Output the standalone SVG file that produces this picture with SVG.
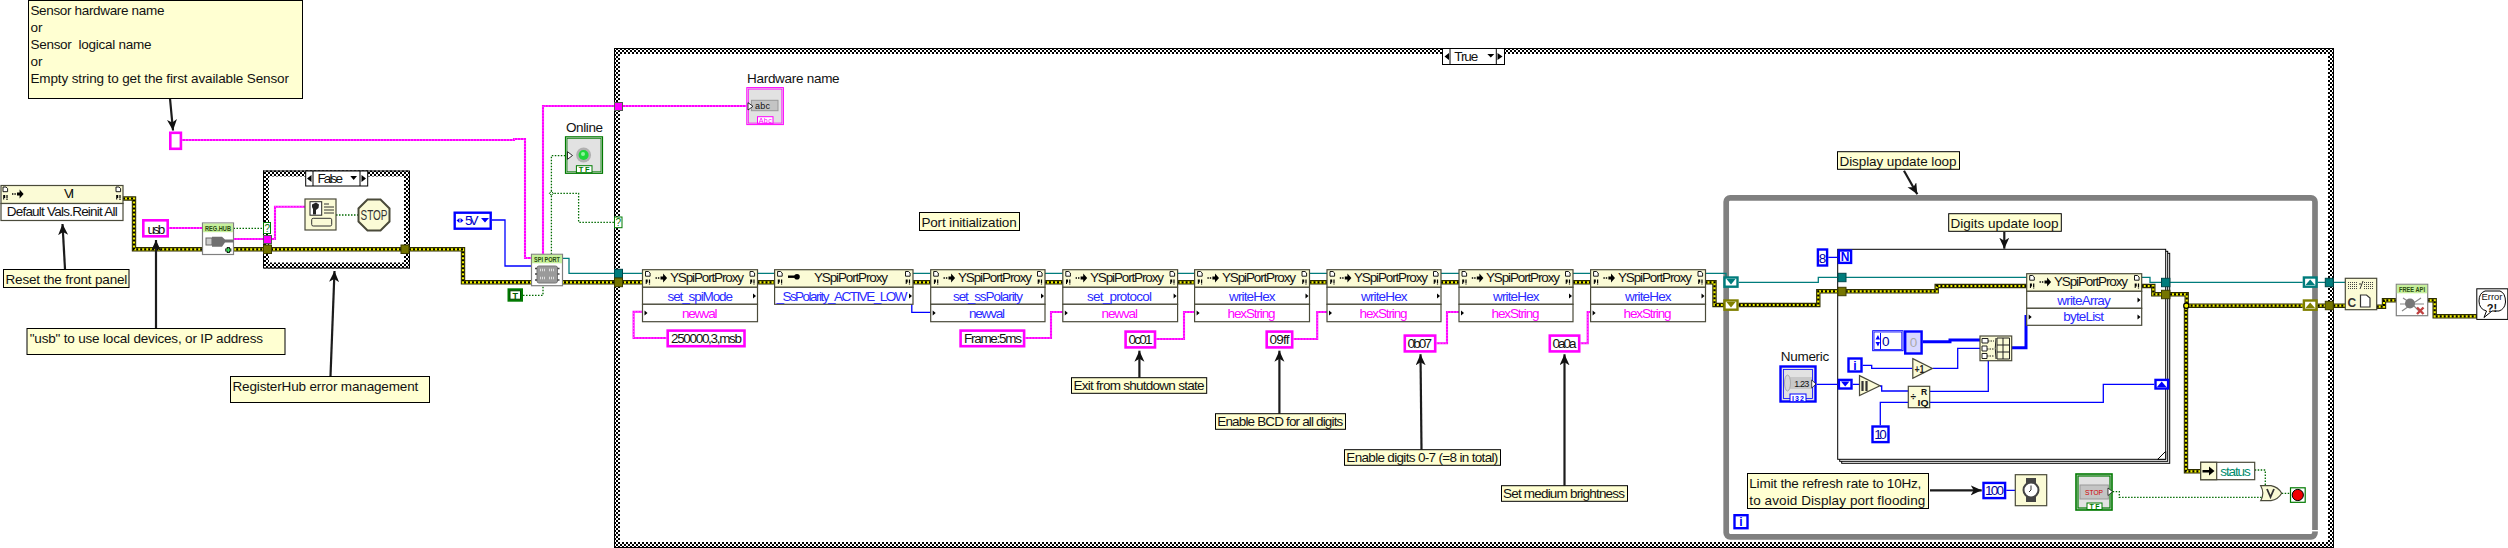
<svg xmlns="http://www.w3.org/2000/svg" width="2508" height="548" viewBox="0 0 2508 548">
<style>
text{font-family:"Liberation Sans","Noto Sans",sans-serif;font-size:13.5px;fill:#111}
.m{text-anchor:middle}
.note{fill:#ffffd2;stroke:#000;stroke-width:1}
.arr{stroke:#1c1c1c;stroke-width:2.2;fill:none;marker-end:url(#ah)}
.box{fill:#fbfbd6;stroke:#4a4a3a;stroke-width:1.2}
.row{fill:#fff;stroke:#4a4a3a;stroke-width:1.2}
.bl{fill:#2a2aff}.pk{fill:#ff00ff}
.cs{fill:#fff;stroke:#ff00ff;stroke-width:2.6}
.ci{fill:#fff;stroke:#0000ff;stroke-width:2.4}
.cg{fill:#fff;stroke:#007a00;stroke-width:2.4}
.frame{fill:none;stroke:url(#chk);stroke-width:6}
.fo{fill:none;stroke:#000;stroke-width:1}
.w{fill:none}
.teal{stroke:#007c7c;stroke-width:1.3}
.blue{stroke:#0000ff;stroke-width:1.3}
.blue3{stroke:#0000ff;stroke-width:3}
.grn{stroke:#006a00;stroke-width:1.3;stroke-dasharray:1.5 1.5}
.pk1{stroke:#ff00ff;stroke-width:2.1}
.pk2{stroke:#ffd0ff;stroke-width:.7;stroke-dasharray:1 2}
.e1{stroke:#2e2e00;stroke-width:4.4}
.e2{stroke:#f4f400;stroke-width:2.2}
.e3{stroke:#000;stroke-width:2.2;stroke-dasharray:2 2}
.tb{fill:#007c7c;stroke:#00484a;stroke-width:1}
.br{fill:#757500;stroke:#3e3e00;stroke-width:1}
.sm{font-size:8px;font-weight:700}
</style>
<defs>
<pattern id="chk" width="4" height="4" patternUnits="userSpaceOnUse"><rect width="4" height="4" fill="#fff"/><rect width="2" height="2" fill="#000"/><rect x="2" y="2" width="2" height="2" fill="#000"/></pattern>
<pattern id="dots" width="2" height="2" patternUnits="userSpaceOnUse"><rect width="2" height="2" fill="#fbfbd6"/><rect width="1" height="1" fill="#444"/></pattern>
<marker id="ah" markerUnits="userSpaceOnUse" markerWidth="14" markerHeight="12" refX="11" refY="5" orient="auto"><path d="M0 0L11 5L0 10L3 5Z" fill="#111"/></marker>
<g id="ic"><path d="M0 .5H3L4.6 2V5.2H0Z" fill="#fff" stroke="#000" stroke-width=".9"/><path d="M.2 8.5H2.2V11.5H1.2V13H.2ZM3.4 8.5H4.6V12H3.4ZM3.4 12.6H4.6V13.6H3.4Z" fill="#000"/></g>
<path id="go" d="M0 6.2H1.4V7.8H0ZM2.4 6.2H3.8V7.8H2.4ZM5 5.6H7.6V2.6L11.6 7L7.6 11.4V8.4H5Z" fill="#000"/>
<path id="tl" d="M0 0L3 2.5L0 5Z" fill="#000"/>
<path id="tr" d="M0 0L3 2.5L0 5Z" fill="#000"/>
<path id="errw" class="w" d="M123 198.5H134V249.3H263M271 249.3H401M409 249.3H463V282.3H614M622 282.3H642.5M757.5 282.3H774.6M913 282.3H930.7M1045 282.3H1062.8M1177.6 282.3H1194.6M1309.5 282.3H1327M1441 282.3H1459M1573 282.3H1590.6M1705.5 282.3H1714.5V305H1724M1738.7 305H1818.3V291.3H1838M1845.7 291.3H1936.7V286H2026.7M2141.7 286H2153.3V294.3H2161M2170 294.3H2186.7V305.7H2302.7M2186 305.7V471.3H2200.7M2317.7 305.7H2325.3M2333.3 305.7H2345.3M2376.7 306.7H2384V300.3H2396.3M2427.7 300.3H2434.7V316.3H2476.7"/>
<path id="pkw" class="w" d="M182 140H514V139H525V258H532M169 228H202M233.5 239H263M271 239H275V206.7H305M543 254.3V106H614M622 106H746.5M666.4 338H633.6V311.7H642.5M1025.4 338H1051V312H1062.8M1156.3 339H1184V312H1194.6M1293.5 339H1317.2V312H1327M1436.5 343.3H1447V312H1459M1580.5 343.3H1587.7V312H1590.6"/>
</defs>
<rect width="2508" height="548" fill="#fff"/>

<g id="frames">
<g id="case-true"><rect class="frame" x="617" y="51" width="1714" height="494"/><rect class="fo" x="614.5" y="48.5" width="1719" height="499"/></g>
<g id="case-false"><rect class="frame" x="266" y="173.5" width="141" height="92"/><rect class="fo" x="263.5" y="171" width="146" height="97"/></g>
<g id="while-loop"><rect x="1726.2" y="197.8" width="588.8" height="339" rx="4" fill="none" stroke="#808080" stroke-width="5.7"/><path d="M2312 530.7H2318" stroke="#fff" stroke-width="1.4"/></g>
<g id="for-loop" fill="#fff" stroke="#000" stroke-width="1"><rect x="1841.7" y="253.3" width="328" height="210"/><rect x="1839.7" y="251.3" width="328" height="210"/><rect x="1837.7" y="249.3" width="328" height="210"/><path d="M2157.7 459.3L2165.7 451.3V459.3Z"/></g>
</g>

<g id="connectors">
<use href="#errw" class="e1"/><use href="#errw" class="e2"/><use href="#errw" class="e3"/>
<use href="#pkw" class="pk1"/><use href="#pkw" class="pk2"/>
<path class="w teal" d="M562.5 258.3H569V273.3H614M622 273.3H642.5M757.5 273.3H774.6M913 273.3H930.7M1045 273.3H1062.8M1177.6 273.3H1194.6M1309.5 273.3H1327M1441 273.3H1459M1573 273.3H1590.6M1705.5 273.3H1726V280M1738.7 282.3H1818.3V277.3H1837.7M1845.7 277.3H2026.7M2141.7 277.3H2150V282.3H2161.3M2170 282.3H2302.7M2317.7 282.3H2325.3M2333.3 282.3H2345.3"/>
<path class="w grn" d="M233.5 228.3H263M336 215H358M551.4 254.3V155.7H566M551.4 193.3H578.6V222.3H614M523 295.3H543V285.7M2112.7 491.7H2119.3V497.3H2265M2254.7 470H2265.3V486M2281.7 493.3H2290"/>
<path class="w blue" d="M492 220H505V266H532M911.8 304.3V312.3H930.7M1828.3 257.3H1837.7M1816.7 384.3H1837.7M1852.7 384.3H1859M1880 386H1881.7V391H1908.3M1862.7 365.3H1871.7V368.3H1912.3M1932.7 368.3H1957.7V348.3H1980M1929.7 391.3H1988.3V360.7M1880.3 425.3V402.3H1908.3M1929.7 402.3H2103.3V384.3H2154.3M2006.3 490.3H2015.3"/>
<path class="w blue3" d="M1922.7 341.7H1950V340H1980M2011.7 347.7H2026V315"/>
<path d="M551.4 191.3L553.4 193.3L551.4 195.3L549.4 193.3Z" fill="#fff" stroke="#006a00"/>
<circle cx="2186.3" cy="305.7" r="2.6" fill="#f4f400" stroke="#000" stroke-width="1.2"/>
</g>

<g id="note-arrows">
<path class="arr" d="M170 98.5L173 130.5"/>
<path class="arr" d="M65 269L62.5 224"/>
<path class="arr" d="M156 328V240"/>
<path class="arr" d="M330.5 376L334.5 271"/>
<path class="arr" d="M1139.4 377.7V350.7"/>
<path class="arr" d="M1279.4 413.7V350.7"/>
<path class="arr" d="M1421.5 449.7L1420.5 354.3"/>
<path class="arr" d="M1564.5 485.7V354.3"/>
<path class="arr" d="M1904 170.7L1917.3 194.3"/>
<path class="arr" d="M2004.3 232V248.7"/>
<path class="arr" d="M1930 490.3H1981.7"/>
</g>

<g id="note-sensor"><rect class="note" x="28.5" y=".5" width="274" height="98"/>
<text x="30.4" y="15" textLength="134">Sensor hardware name</text><text x="30.4" y="32" textLength="12">or</text><text x="30.4" y="49" textLength="121" xml:space="preserve">Sensor  logical name</text><text x="30.4" y="66" textLength="12">or</text><text x="30.4" y="83" textLength="258.6">Empty string to get the first available Sensor</text></g>
<g id="const-empty"><rect class="cs" x="170.3" y="132.8" width="10.6" height="16"/></g>

<g id="node-vi"><rect class="box" x="1" y="185.5" width="122" height="18"/><rect class="row" x="1" y="203.5" width="122" height="17"/>
<use href="#ic" x="3" y="186.5"/><use href="#ic" x="116" y="186.5"/><use href="#go" x="12" y="187"/>
<text x="64" y="198.2" textLength="10.3">VI</text><text x="6.7" y="216.2" textLength="111">Default Vals.Reinit All</text></g>
<g id="note-reset"><rect class="note" x="3.5" y="269.5" width="125.5" height="18"/><text x="5.5" y="283.8" textLength="121.8">Reset the front panel</text></g>
<g id="const-usb"><rect class="cs" x="143.3" y="220.3" width="24.4" height="16"/><text x="147.5" y="233.8" textLength="17.8">usb</text></g>
<g id="note-usb"><rect class="note" x="27" y="328.5" width="258" height="26"/><text x="29.7" y="342.5" textLength="233.3">"usb" to use local devices, or IP address</text></g>
<g id="node-reghub"><rect x="202.5" y="223" width="31" height="31.5" fill="#fff" stroke="#808080" stroke-width="1.2"/><rect x="203" y="223.5" width="30" height="8.7" fill="#c6f09c"/>
<text class="sm m" x="218" y="230.6" textLength="26" lengthAdjust="spacingAndGlyphs" style="fill:#2a4a10">REG.HUB</text>
<rect x="206" y="238" width="6" height="7" fill="#ccc" stroke="#666"/><path d="M212 236.7H222L225 239.5H233.5V242.5H225L222 246.7H212Z" fill="#707070"/><path d="M228.3 247V253M225.3 250H231.3" stroke="#000" stroke-width="3"/><path d="M228.3 247.7V252.3M226 250H230.6" stroke="#3fe05a" stroke-width="1.4"/></g>
<g id="note-reghub"><rect class="note" x="230.5" y="376.5" width="199" height="26"/><text x="232.5" y="391" textLength="185.8">RegisterHub error management</text></g>
<g id="tunnels-false"><rect x="263.5" y="222.5" width="7" height="11" fill="#fff" stroke="#007a00"/><text x="264.5" y="231.5" style="font-size:10px;fill:#007a00">?</text>
<rect x="263.5" y="235.5" width="8" height="8" fill="#ff00ff" stroke="#555"/><rect class="br" x="263.5" y="245" width="8" height="8.5"/><rect class="br" x="401" y="245" width="8" height="8.5"/></g>
<g id="selector-false"><rect x="305.7" y="171" width="62" height="15" fill="#fff" stroke="#000"/><path d="M313 171V186M360 171V186" stroke="#000"/><path d="M311.5 175V182L307 178.5ZM361.5 175V182L366 178.5ZM350.3 176H357L353.7 180Z" fill="#000"/><text x="317.5" y="183.2" textLength="25.5">False</text></g>
<g id="node-dialog"><rect class="box" x="305" y="199" width="31" height="31" stroke-width="1.6"/><rect x="310" y="201.7" width="11.7" height="13.5" fill="#fff" stroke="#222"/><path d="M313 214.5V209L312 207V204.5L316 202.5L319 204.5L318.5 208L316 210V214.5Z" fill="#222"/><path d="M324 204H329M324 207H334M324 210H334M324 213H334" stroke="#333" stroke-width="1"/><rect x="311.7" y="218.3" width="20" height="7.7" rx="1.5" fill="none" stroke="#333"/></g>
<g id="node-stop"><path d="M367.5 199.5H380.5L389.5 208.5V221.5L380.5 230.5H367.5L358.5 221.5V208.5Z" fill="#fbfbd6" stroke="#4a4a3a" stroke-width="2"/><text class="m" x="374" y="220" textLength="27" lengthAdjust="spacingAndGlyphs" style="font-size:14px;fill:#333">STOP</text></g>
<g id="enum-5v"><rect class="ci" x="454.7" y="212.7" width="36" height="16"/><path d="M456.5 220.5L459.5 218V223ZM463.5 220.5L460.5 218V223ZM481 218H489L485 222.5Z" fill="#0000ff"/><text x="465" y="225" textLength="13.4" style="fill:#0000c8">5V</text></g>
<g id="node-spiport"><rect x="531.5" y="254.3" width="31" height="31.4" fill="#fff" stroke="#808080" stroke-width="1.2"/><rect x="532" y="254.8" width="30" height="8.5" fill="#c6f09c"/><text class="sm m" x="547" y="262" textLength="26" lengthAdjust="spacingAndGlyphs" style="fill:#2a4a10">SPI PORT</text>
<rect x="537" y="266" width="20.5" height="17" rx="2" fill="#9a9a9a" stroke="#777"/><path d="M535 268.5H537M535 274H537M535 280H537M557.5 268.5H559.5M557.5 274H559.5M557.5 280H559.5" stroke="#444" stroke-width="1.5"/><path d="M540 270H545M549 270H554M540 278H545M549 278H554" stroke="#ddd" stroke-width="2.5" stroke-dasharray="1 1"/></g>
<g id="const-true"><rect x="507.5" y="288.3" width="15.5" height="13.4" fill="#007a00"/><rect x="510" y="290.8" width="10.5" height="8.4" fill="#fff" stroke="#004a00"/><text class="m" x="515.2" y="298.7" style="font-size:9px;font-weight:700;fill:#005a00">T</text></g>
<g id="ind-online"><text x="566" y="131.8" textLength="37">Online</text><rect x="565.5" y="136.8" width="37" height="36.5" fill="#e2e2e2" stroke="#007a00" stroke-width="1.2"/><rect x="567" y="138.3" width="34" height="33.5" fill="none" stroke="#007a00" stroke-width=".8"/><circle cx="583.6" cy="155" r="7.5" fill="#b0b0b0"/><circle cx="583.6" cy="155" r="5" fill="#1fd63a"/><circle cx="583" cy="154" r="2" fill="#8cf59a"/><path d="M567.5 151.7L572.5 155.5L567.5 159.3Z" fill="#fff" stroke="#000" stroke-width=".8"/><rect x="576.4" y="165.7" width="15.6" height="7" fill="#fff" stroke="#007a00"/><text class="m" x="584.2" y="172" textLength="11" style="font-size:7.5px;font-weight:700;fill:#007a00">TF</text></g>
<g id="tunnels-true-left"><rect x="614.5" y="102.5" width="8" height="8" fill="#ff00ff" stroke="#555"/><rect x="614.5" y="217" width="7.5" height="10.7" fill="#fff" stroke="#007a00"/><text x="615.5" y="226" style="font-size:10px;fill:#007a00">?</text><rect class="tb" x="614.5" y="269.3" width="8" height="8.7"/><rect class="br" x="614.5" y="278" width="8" height="8.7"/></g>
<g id="ind-hardware"><text x="747" y="82.8" textLength="92.6">Hardware name</text><rect x="746.8" y="87.6" width="36.6" height="37" fill="#e2e2e2" stroke="#ff00ff" stroke-width="1"/><rect x="748.3" y="89.1" width="33.6" height="34" fill="none" stroke="#ff00ff" stroke-width=".8"/><rect x="751.4" y="100.3" width="26.6" height="10.4" fill="#c4c4c4" stroke="#999"/><text x="755" y="108.8" textLength="15" style="font-size:9px">abc</text><path d="M748 102.7L753 106.3L748 110Z" fill="#fff" stroke="#000" stroke-width=".8"/><rect x="757.5" y="116.7" width="15.5" height="6.6" fill="#fff" stroke="#ff00ff"/><text class="m" x="765.2" y="122.6" textLength="13" style="font-size:7px;fill:#ff00ff">Abc</text></g>

<g id="node-setspimode"><rect class="box" x="642.5" y="269.7" width="115" height="17.6"/><rect class="row" x="642.5" y="287.3" width="115" height="17"/><rect class="row" x="642.5" y="304.3" width="115" height="17.4"/><use href="#ic" x="645.5" y="271"/><use href="#ic" x="750" y="271"/><use href="#go" x="655.5" y="271"/><use href="#tr" x="753" y="293.5"/><use href="#tl" x="644.5" y="310.5"/>
<text x="670" y="282" textLength="74">YSpiPortProxy</text><text class="bl" x="667.5" y="300.5" textLength="65.5">set_spiMode</text><text class="pk" x="682" y="317.5" textLength="35.5">newval</text></g>
<g id="const-spimode"><rect class="cs" x="667.7" y="330.6" width="76.8" height="15.6"/><text x="671" y="343" textLength="71">250000,3,msb</text></g>

<g id="node-sspolarity"><rect class="box" x="774.6" y="269.7" width="138.4" height="17.6"/><rect class="row" x="774.6" y="287.3" width="138.4" height="17"/><use href="#ic" x="777.6" y="271"/><use href="#ic" x="905.5" y="271"/><rect x="788" y="275.5" width="8" height="2.4" fill="#000"/><circle cx="797" cy="276.7" r="2.8" fill="#000"/><use href="#tr" x="909" y="293.5"/>
<text x="814" y="282" textLength="74">YSpiPortProxy</text><text class="bl" x="776.4" y="300.5" textLength="131">_SsPolarity_ACTIVE_LOW</text></g>

<g id="node-setsspolarity"><rect class="box" x="930.7" y="269.7" width="114.3" height="17.6"/><rect class="row" x="930.7" y="287.3" width="114.3" height="17"/><rect class="row" x="930.7" y="304.3" width="114.3" height="17.4"/><use href="#ic" x="933.7" y="271"/><use href="#ic" x="1037.5" y="271"/><use href="#go" x="943.5" y="271"/><use href="#tr" x="1041" y="293.5"/><use href="#tl" x="932.7" y="310.5"/>
<text x="958" y="282" textLength="74">YSpiPortProxy</text><text class="bl" x="953" y="300.5" textLength="70">set_ssPolarity</text><text class="bl" x="969" y="317.5" textLength="36">newval</text></g>
<g id="const-frame"><rect class="cs" x="960.6" y="330.6" width="63.5" height="15.6"/><text x="964" y="343" textLength="58">Frame:5ms</text></g>

<g id="node-setprotocol"><rect class="box" x="1062.8" y="269.7" width="114.8" height="17.6"/><rect class="row" x="1062.8" y="287.3" width="114.8" height="17"/><rect class="row" x="1062.8" y="304.3" width="114.8" height="17.4"/><use href="#ic" x="1065.8" y="271"/><use href="#ic" x="1170" y="271"/><use href="#go" x="1075.6" y="271"/><use href="#tr" x="1173.6" y="293.5"/><use href="#tl" x="1064.8" y="310.5"/>
<text x="1090" y="282" textLength="74">YSpiPortProxy</text><text class="bl" x="1087" y="300.5" textLength="65">set_protocol</text><text class="pk" x="1101.5" y="317.5" textLength="36.5">newval</text></g>
<g id="const-0c01"><rect class="cs" x="1125.6" y="331.6" width="29.4" height="15.8"/><text x="1128.5" y="344" textLength="24">0c01</text></g>

<g id="node-writehex1"><rect class="box" x="1194.6" y="269.7" width="114.9" height="17.6"/><rect class="row" x="1194.6" y="287.3" width="114.9" height="17"/><rect class="row" x="1194.6" y="304.3" width="114.9" height="17.4"/><use href="#ic" x="1197.6" y="271"/><use href="#ic" x="1302" y="271"/><use href="#go" x="1207.4" y="271"/><use href="#tr" x="1305.5" y="293.5"/><use href="#tl" x="1196.6" y="310.5"/>
<text x="1222" y="282" textLength="74">YSpiPortProxy</text><text class="bl" x="1229" y="300.5" textLength="46.6">writeHex</text><text class="pk" x="1227.6" y="317.5" textLength="48">hexString</text></g>
<g id="const-09ff"><rect class="cs" x="1266.7" y="331.6" width="25.5" height="15.8"/><text x="1269.5" y="344" textLength="20">09ff</text></g>

<g id="node-writehex2"><rect class="box" x="1327" y="269.7" width="114" height="17.6"/><rect class="row" x="1327" y="287.3" width="114" height="17"/><rect class="row" x="1327" y="304.3" width="114" height="17.4"/><use href="#ic" x="1330" y="271"/><use href="#ic" x="1433.5" y="271"/><use href="#go" x="1339.8" y="271"/><use href="#tr" x="1437" y="293.5"/><use href="#tl" x="1329" y="310.5"/>
<text x="1354" y="282" textLength="74">YSpiPortProxy</text><text class="bl" x="1361" y="300.5" textLength="46.6">writeHex</text><text class="pk" x="1359.6" y="317.5" textLength="48">hexString</text></g>
<g id="const-0b07"><rect class="cs" x="1404.8" y="335.6" width="30.4" height="15.8"/><text x="1407.5" y="348" textLength="24.5">0b07</text></g>

<g id="node-writehex3"><rect class="box" x="1459" y="269.7" width="114" height="17.6"/><rect class="row" x="1459" y="287.3" width="114" height="17"/><rect class="row" x="1459" y="304.3" width="114" height="17.4"/><use href="#ic" x="1462" y="271"/><use href="#ic" x="1565.5" y="271"/><use href="#go" x="1471.8" y="271"/><use href="#tr" x="1569" y="293.5"/><use href="#tl" x="1461" y="310.5"/>
<text x="1486" y="282" textLength="74">YSpiPortProxy</text><text class="bl" x="1493" y="300.5" textLength="46.6">writeHex</text><text class="pk" x="1491.6" y="317.5" textLength="48">hexString</text></g>
<g id="const-0a0a"><rect class="cs" x="1549.8" y="335.6" width="29.4" height="15.8"/><text x="1552.5" y="348" textLength="24">0a0a</text></g>

<g id="node-writehex4"><rect class="box" x="1590.6" y="269.7" width="114.9" height="17.6"/><rect class="row" x="1590.6" y="287.3" width="114.9" height="17"/><rect class="row" x="1590.6" y="304.3" width="114.9" height="17.4"/><use href="#ic" x="1593.6" y="271"/><use href="#ic" x="1698" y="271"/><use href="#go" x="1603.4" y="271"/><use href="#tr" x="1701.5" y="293.5"/><use href="#tl" x="1592.6" y="310.5"/>
<text x="1618" y="282" textLength="74">YSpiPortProxy</text><text class="bl" x="1625" y="300.5" textLength="46.6">writeHex</text><text class="pk" x="1623.6" y="317.5" textLength="48">hexString</text></g>

<g id="note-port"><rect class="note" x="919.5" y="212.5" width="100" height="18"/><text x="921.4" y="226.8" textLength="95.3">Port initialization</text></g>
<g id="note-exit"><rect class="note" x="1071.5" y="377.7" width="135.2" height="15.6"/><text x="1073.5" y="390" textLength="131">Exit from shutdown state</text></g>
<g id="note-bcd"><rect class="note" x="1215.5" y="413.7" width="130" height="15.6"/><text x="1217.3" y="426" textLength="126">Enable BCD for all digits</text></g>
<g id="note-digits"><rect class="note" x="1344.5" y="449.7" width="156" height="15.6"/><text x="1346.3" y="462" textLength="152">Enable digits 0-7 (=8 in total)</text></g>
<g id="note-brightness"><rect class="note" x="1501.5" y="485.7" width="126" height="15.6"/><text x="1503" y="498" textLength="122">Set medium brightness</text></g>
<g id="selector-true"><rect x="1442.5" y="48.5" width="62" height="16" fill="#fff" stroke="#000"/><path d="M1450 48.5V64.5M1496.3 48.5V64.5" stroke="#000"/><path d="M1449 53V60L1444.5 56.5ZM1497.5 53V60L1502.5 56.5ZM1487.3 54H1494.3L1490.8 57.5Z" fill="#000"/><text x="1454.3" y="61.2" textLength="24">True</text></g>

<g id="note-display"><rect class="note" x="1837.5" y="151.7" width="122" height="17.6"/><text x="1839.5" y="166" textLength="117">Display update loop</text></g>
<g id="note-digitsloop"><rect class="note" x="1948.7" y="213.7" width="112.6" height="17.6"/><text x="1950.5" y="228" textLength="108">Digits update loop</text></g>
<g id="sr-left"><rect x="1724.5" y="277.5" width="13" height="9.2" fill="#fff" stroke="#007c7c" stroke-width="2.4"/><path d="M1726.5 279H1735.5L1731 284.5Z" fill="#007c7c"/><rect x="1724.5" y="300.5" width="13" height="9.2" fill="#fff" stroke="#808000" stroke-width="2.4"/><path d="M1726.5 302H1735.5L1731 307.5Z" fill="#808000"/></g>
<g id="const-8"><rect class="ci" x="1817.9" y="249.5" width="9.2" height="16"/><text class="m" x="1822.5" y="262.5" style="fill:#0000a0">8</text></g>
<g id="term-n"><rect class="ci" x="1838.9" y="250.5" width="12.2" height="12.4"/><text class="m" x="1845" y="261" style="font-size:12px;font-weight:700;fill:#0000ff">N</text></g>
<g id="tunnels-for"><rect class="tb" x="1838" y="273.3" width="8" height="8.4"/><rect class="br" x="1838" y="287.3" width="8" height="8.4"/><rect class="tb" x="2161.5" y="278.3" width="8.4" height="8.4"/><rect class="br" x="2161.5" y="290.3" width="8.4" height="8.4"/></g>
<g id="node-writearray"><rect class="box" x="2026.7" y="273.7" width="115" height="17.6"/><rect class="row" x="2026.7" y="291.3" width="115" height="17"/><rect class="row" x="2026.7" y="308.3" width="115" height="17"/><use href="#ic" x="2029.7" y="275"/><use href="#ic" x="2134.5" y="275"/><use href="#go" x="2039.5" y="275"/><use href="#tr" x="2137.5" y="297.5"/><use href="#tr" x="2137.5" y="314.5"/><use href="#tl" x="2028.7" y="314.5"/>
<text x="2054" y="286" textLength="74">YSpiPortProxy</text><text class="bl" x="2057.3" y="304.5" textLength="53.5">writeArray</text><text class="bl" x="2063.3" y="321.2" textLength="40.7">byteList</text></g>
<g id="array-const"><rect x="1872.7" y="330.7" width="30.4" height="20" fill="#fff" stroke="#0000ff" stroke-width="1"/><rect x="1874" y="332" width="27.8" height="17.4" fill="none" stroke="#0000ff" stroke-width=".8"/><path d="M1880.5 333V349" stroke="#0000ff"/><path d="M1875.5 339.5L1878 335L1880 339.5ZM1875.5 342L1878 346.5L1880 342Z" fill="#0000ff"/><text x="1882" y="346" style="fill:#0000a0">0</text><rect x="1905.2" y="331.5" width="16.4" height="22" fill="#d8d8ff" stroke="#0000ff" stroke-width="2.4"/><text class="m" x="1913.4" y="347" style="fill:#aaa">0</text></g>
<g id="node-replace"><rect class="box" x="1980" y="336" width="31.7" height="24.7" stroke-width="1.6"/><path d="M1982 338.5H1988V343H1982ZM1982 346H1987V351H1982ZM1982 353.5H1987V358.5H1982Z" fill="#fff" stroke="#222"/><path d="M1988 341H1994M1987 349H1994M1987 356H1994" stroke="#222" stroke-dasharray="1.5 1"/><path d="M1997 338V359M2003 338V359M2009.5 338V359M1997 338H2009.5M1997 345H2009.5M1997 352H2009.5M1997 359H2009.5" stroke="#222" fill="none"/><path d="M1996 338Q1994.5 348 1996 359" stroke="#222" fill="none"/></g>
<g id="const-i"><rect class="ci" x="1848.5" y="358.5" width="13" height="13"/><text class="m" x="1855" y="369.5" style="font-size:12px;font-weight:700;fill:#0000ff">i</text></g>
<g id="node-plus1"><path d="M1912.8 358.6L1932.4 368.4L1912.8 378.3Z" class="box"/><text x="1914.5" y="372.7" textLength="10" lengthAdjust="spacingAndGlyphs" style="font-size:10px;font-weight:700;fill:#222">+1</text></g>
<g id="ctl-numeric"><text x="1780.7" y="361" textLength="48.6">Numeric</text><rect x="1780.5" y="366.5" width="35" height="35" fill="#e2e2e2" stroke="#0000ff" stroke-width="2.4"/><rect x="1783.5" y="369.5" width="29" height="29" fill="none" stroke="#0000ff" stroke-width=".8"/><rect x="1790" y="377" width="22" height="12" fill="#c8c8c8"/><ellipse cx="1787.5" cy="383" rx="3" ry="8" fill="#d8d8d8" stroke="#aaa"/><text x="1794.3" y="387.3" textLength="15" style="font-size:9px">1.23</text><path d="M1811.7 380L1816 384L1811.7 388Z" fill="#fff" stroke="#000" stroke-width=".7"/><rect x="1790" y="394" width="16" height="7.7" fill="#fff" stroke="#0000ff"/><text class="m" x="1798" y="400.8" textLength="12" style="font-size:7px;font-weight:700;fill:#0000ff">I32</text></g>
<g id="tunnel-numeric"><rect class="ci" x="1838.9" y="379.9" width="12.6" height="8.6"/><path d="M1841 381.5H1849.5L1845.2 386.5Z" fill="#0000ff"/></g>
<g id="node-half"><path d="M1859.5 375.6L1880 385.7L1859.5 395.6Z" class="box"/><path d="M1862.5 381V391M1866.5 381V391" stroke="#333" stroke-width="2.2"/></g>
<g id="node-quotient"><rect class="box" x="1908.3" y="386.3" width="21.4" height="21.4"/><text x="1910.5" y="400" style="font-size:10px;font-weight:700">÷</text><text x="1921" y="395" style="font-size:8.5px;font-weight:700">R</text><text x="1917.5" y="406" textLength="11" lengthAdjust="spacingAndGlyphs" style="font-size:8.5px;font-weight:700">IQ</text></g>
<g id="const-10"><rect class="ci" x="1872.5" y="426.5" width="16" height="15.6"/><text class="m" x="1880.5" y="439" textLength="12.5" style="fill:#0000a0">10</text></g>
<g id="sr-right-u"><rect class="ci" x="2155.5" y="379.9" width="12.6" height="8.6"/><path d="M2157 387H2166.5L2161.7 381.5Z" fill="#0000ff"/></g>
<g id="note-limit"><rect class="note" x="1747.5" y="473.5" width="181" height="35"/><text x="1749.3" y="487.8" textLength="172">Limit the refresh rate to 10Hz,</text><text x="1749.3" y="504.8" textLength="176">to avoid Display port flooding</text></g>
<g id="const-100"><rect class="ci" x="1983.5" y="482.9" width="21.6" height="15.2"/><text x="1985" y="495" textLength="19" style="fill:#0000a0">100</text></g>
<g id="node-wait"><rect class="box" x="2015.3" y="474.7" width="31.4" height="31" stroke-width="1.4"/><path d="M2026 478H2036V484H2026ZM2026 496H2036V502H2026Z" fill="#444"/><circle cx="2031" cy="490" r="7.5" fill="#fff" stroke="#444" stroke-width="2"/><path d="M2031 485.5V490L2029 492" stroke="#333" fill="none"/></g>
<g id="ctl-stop"><rect x="2076" y="474" width="36" height="36" fill="#e2e2e2" stroke="#007a00" stroke-width="1.6"/><rect x="2078" y="476" width="32" height="32" fill="none" stroke="#007a00" stroke-width="1.2"/><rect x="2080" y="485" width="28.3" height="14" fill="#c4c4c4" stroke="#999"/><text class="m" x="2094" y="495" textLength="18" lengthAdjust="spacingAndGlyphs" style="font-size:8px;fill:#d00000">STOP</text><path d="M2108 488L2112.5 491.7L2108 495.5Z" fill="#fff" stroke="#000" stroke-width=".7"/><rect x="2087" y="503" width="15" height="6.5" fill="#fff" stroke="#007a00"/><text class="m" x="2094.5" y="509" textLength="10" style="font-size:7px;font-weight:700;fill:#007a00">TF</text></g>
<g id="term-loop-i"><rect class="ci" x="1734.5" y="515.2" width="13" height="13"/><text class="m" x="1741" y="526" style="font-size:12px;font-weight:700;fill:#0000ff">i</text></g>
<g id="sr-right"><rect x="2303.9" y="277.5" width="12.6" height="9.2" fill="#fff" stroke="#007c7c" stroke-width="2.4"/><path d="M2305.5 285H2315L2310.2 279.5Z" fill="#007c7c"/><rect x="2303.9" y="300.5" width="12.6" height="9.2" fill="#fff" stroke="#808000" stroke-width="2.4"/><path d="M2305.5 308H2315L2310.2 302.5Z" fill="#808000"/></g>
<g id="tunnels-true-right"><rect class="tb" x="2325.3" y="278.3" width="8" height="8.4"/><rect class="br" x="2325.3" y="301.3" width="8" height="8.4"/></g>
<g id="node-status"><rect class="row" x="2200.7" y="462.3" width="54" height="17.4"/><rect class="box" x="2200.7" y="462.3" width="16" height="17.4"/><path d="M2202.5 470H2209V466.5L2214.5 471L2209 475.5V472.5H2202.5Z" fill="#000"/><text x="2220.3" y="476" textLength="30.4" style="fill:#008c6e">status</text></g>
<g id="node-or"><path d="M2260.7 485.7H2271Q2278 487 2281.7 493.2Q2278 499.5 2271 500.7H2260.7Q2265 493.2 2260.7 485.7Z" class="box"/><path d="M2267 489L2270.5 497L2274 489" stroke="#333" stroke-width="1.8" fill="none"/></g>
<g id="term-stop"><rect x="2290.5" y="487.8" width="14.7" height="14.5" fill="#fff" stroke="#007a00" stroke-width="1.2"/><circle cx="2297.8" cy="495" r="5.6" fill="#f00000" stroke="#000" stroke-width="1"/></g>
<g id="node-close"><rect class="box" x="2345.3" y="278.3" width="31.4" height="31.4" stroke-width="1.4"/><rect x="2348" y="281" width="9" height="8" fill="url(#dots)"/><path d="M2360 289L2363 281M2361 284H2359" stroke="#333" fill="none"/><rect x="2364" y="281" width="10" height="8" fill="url(#dots)"/><text x="2347.5" y="307" style="font-size:12px;font-weight:700;fill:#333">C</text><path d="M2360.5 295H2366.5L2370 298V307H2360.5Z" fill="#fff" stroke="#333" stroke-width="1.2"/></g>
<g id="node-freeapi"><rect x="2396.3" y="284.3" width="31.4" height="31.4" fill="#fff" stroke="#808080" stroke-width="1.2"/><rect x="2396.8" y="284.8" width="30.4" height="8.5" fill="#c6f09c"/><text class="sm m" x="2412" y="292" textLength="26" lengthAdjust="spacingAndGlyphs" style="fill:#2a4a10">FREE API</text><path d="M2403 298L2412 304L2421 298M2400 304H2424M2402 311L2412 304L2419 311" stroke="#888" stroke-width="1.2" fill="none"/><circle cx="2410" cy="303.5" r="5" fill="#777"/><path d="M2417 307.5L2423.5 314M2423.5 307.5L2417 314" stroke="#c04040" stroke-width="2.4"/></g>
<g id="node-error"><rect x="2476.8" y="288.8" width="31" height="30.6" fill="#fff" stroke="#000"/><path d="M2485 291H2500Q2505.5 293 2505.5 302Q2505 309 2499 311H2492L2484 317.5L2486.5 311Q2479 309 2479 301Q2479 293 2485 291Z" fill="#fff" stroke="#000"/><text class="m" x="2492" y="299.5" textLength="21" lengthAdjust="spacingAndGlyphs" style="font-size:9.5px">Error</text><text class="m" x="2492" y="311.5" style="font-size:11px;font-weight:700">?!</text></g>
</svg>
